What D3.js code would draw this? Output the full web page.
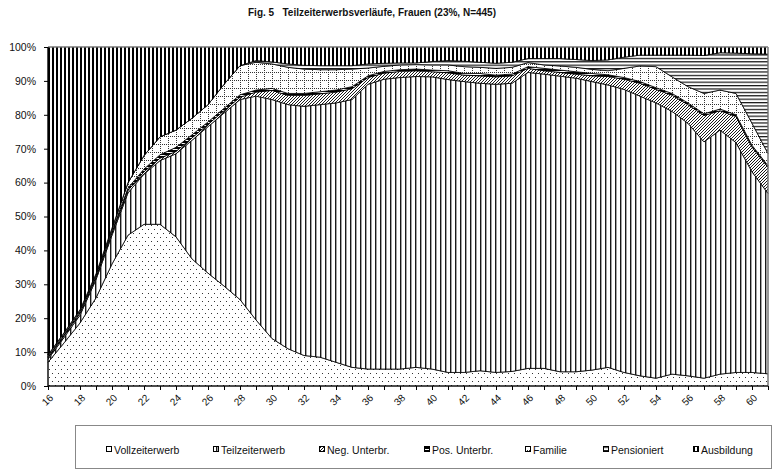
<!DOCTYPE html>
<meta charset="utf-8">
<style type="text/css">
    body { margin: 0; background: #fff; }
    svg text { font-family: Arial, "Liberation Sans", sans-serif; fill: #111; }
</style>

<!-- Load d3.js -->
<script src="https://d3js.org/d3.v7.min.js"></script>

<div id="my_dataviz"></div>

<script>

    // Ages on the x axis (16 .. 61)
    var ages = d3.range(16, 62);

    // Shares in percent per age
    var vollzeit = [7, 12.7, 18.6, 26, 36, 44.5, 47.7, 47.7, 44, 37.5, 33.3, 29.5, 25.5, 19.5, 14, 11, 9, 8.5, 7, 5.5,
        5, 5, 5, 5.5, 5, 4, 4, 4.5, 4, 4.3, 5.2, 5.2, 4.2, 4.2, 4.7, 5.5, 4, 3, 2.3, 3.5, 3, 2.3, 3.5, 4, 4, 3.6];
    var teilzeit = [0.9, 1.6, 2.3, 5.4, 8.5, 12.5, 14.8, 18.8, 24.5, 35, 43.2, 51, 59, 66, 70.5, 72, 73.5, 74.5, 76.5, 79,
        84, 85.5, 86, 85.8, 86.2, 86.4, 85.8, 84.8, 85, 85, 87.3, 86.8, 87.2, 86.6, 85.1, 83.3, 83.5, 82.5, 81.2, 77.5,
        74.5, 69.7, 72, 67.8, 59.2, 53.2];
    var negUnterbr = [0.4, 0.5, 0.6, 0.6, 0.7, 0.7, 0.7, 0.7, 0.7, 0.7, 0.7, 0.7, 0.7, 1.2, 2.7, 2.7, 3.2, 3.2, 3.2, 3.2,
        2, 1.8, 1.8, 1.7, 1.5, 2, 1.9, 2.2, 2.2, 2.2, 1.2, 1, 1.1, 1.2, 1.7, 2.5, 3, 3.8, 4, 4.8, 5.5, 7.8, 5.7, 7.7, 7.3, 7.7];
    var posUnterbr = [0.4, 0.4, 0.5, 0.5, 0.6, 0.7, 0.8, 1, 1.2, 0.9, 0.7, 0.7, 0.7, 0.6, 0.6, 0.6, 0.6, 0.6, 0.6, 0.6,
        0.5, 0.5, 0.5, 0.5, 0.5, 0.6, 0.5, 0.7, 0.5, 0.5, 0.5, 0.7, 0.7, 0.7, 0.7, 0.5, 0.5, 0.5, 0.5, 0.5, 0.5, 0.5, 0.5,
        0.5, 0.5, 0.5];
    var familie = [0.5, 0.5, 0.5, 0.6, 0.8, 1.6, 4, 5.3, 5.1, 4.9, 5.1, 7.1, 8.6, 8.2, 7.2, 7.7, 7.2, 6.5, 6, 5.2,
        2.3, 1.5, 1.4, 1.3, 1.5, 1.7, 2, 1.8, 2, 2, 1.2, 1, 1.2, 1.3, 1.2, 1.2, 2.7, 4.6, 6.2, 4.9, 4.8, 6, 5.6, 6.3, 6.5, 3.6];
    var pensioniert = [0, 0, 0, 0, 0, 0, 0, 0, 0, 0, 0, 0, 0, 0.5, 0.6, 1, 1.1, 1.2, 1.2, 1,
        1.2, 0.9, 0.6, 0.5, 1, 1.3, 1.6, 1.5, 1.5, 1.5, 1.2, 1.9, 2.2, 2.3, 2.6, 3.2, 3.3, 3.2, 3.4, 6.4, 9.3, 11.2, 11,
        11.9, 20.5, 29.3];
    var ausbildung = [90.8, 84.3, 77.5, 66.9, 53.4, 40, 32, 26.5, 24.5, 21, 17, 11, 5.5, 4, 4.4, 5, 5.4, 5.5, 5.5, 5.5,
        5, 4.8, 4.7, 4.7, 4.3, 4, 4.2, 4.5, 4.8, 4.5, 3.4, 3.4, 3.4, 3.7, 4, 3.8, 3, 2.4, 2.4, 2.4, 2.4, 2.5, 1.7, 1.8, 2, 2.1];

    var seriesNames = ["Vollzeiterwerb", "Teilzeiterwerb", "Neg. Unterbr.", "Pos. Unterbr.", "Familie", "Pensioniert", "Ausbildung"];
    var seriesValues = [vollzeit, teilzeit, negUnterbr, posUnterbr, familie, pensioniert, ausbildung];
    var yTicks = [0, 10, 20, 30, 40, 50, 60, 70, 80, 90, 100];

    // table for d3.stack
    var table = ages.map(function (a, i) {
        var row = {age: a};
        seriesNames.forEach(function (s, j) { row[s] = seriesValues[j][i]; });
        return row;
    });

    var W = 774, H = 470;
    var plot = {left: 48, right: 768, top: 47, bottom: 386};

    var svg = d3.select("#my_dataviz")
        .append("svg")
        .attr("width", W)
        .attr("height", H);

    // ---- black & white fill patterns (like the old Excel print) ----
    var defs = svg.append("defs");
    var patIds = ["pVoll", "pTeil", "pNeg", "pPos", "pFam", "pPens", "pAusb"];

    // sparse dots
    var p = defs.append("pattern").attr("id", "pVoll").attr("patternUnits", "userSpaceOnUse")
        .attr("width", 6).attr("height", 8);
    p.append("rect").attr("width", 6).attr("height", 8).attr("fill", "#fff");
    p.append("rect").attr("x", 1).attr("y", 1).attr("width", 1).attr("height", 1).attr("fill", "#333");
    p.append("rect").attr("x", 4).attr("y", 5).attr("width", 1).attr("height", 1).attr("fill", "#333");

    // vertical lines
    p = defs.append("pattern").attr("id", "pTeil").attr("patternUnits", "userSpaceOnUse")
        .attr("width", 5).attr("height", 5);
    p.append("rect").attr("width", 5).attr("height", 5).attr("fill", "#fff");
    p.append("rect").attr("x", 0).attr("width", 1.4).attr("height", 5).attr("fill", "#1a1a1a");

    // diagonal hatch
    p = defs.append("pattern").attr("id", "pNeg").attr("patternUnits", "userSpaceOnUse")
        .attr("width", 3).attr("height", 3);
    p.append("rect").attr("width", 3).attr("height", 3).attr("fill", "#fff");
    p.append("path").attr("d", "M-1,1 L1,-1 M0,3 L3,0 M2,4 L4,2")
        .attr("stroke", "#000").attr("stroke-width", 0.9);

    // dark band
    p = defs.append("pattern").attr("id", "pPos").attr("patternUnits", "userSpaceOnUse")
        .attr("width", 4).attr("height", 3);
    p.append("rect").attr("width", 4).attr("height", 3).attr("fill", "#fff");
    p.append("rect").attr("width", 4).attr("height", 2).attr("fill", "#000");

    // dotted grid
    p = defs.append("pattern").attr("id", "pFam").attr("patternUnits", "userSpaceOnUse")
        .attr("width", 8).attr("height", 8);
    p.append("rect").attr("width", 8).attr("height", 8).attr("fill", "#fff");
    d3.range(0, 8, 2).forEach(function (k) {
        p.append("rect").attr("x", k).attr("y", 0).attr("width", 1).attr("height", 1).attr("fill", "#333");
        p.append("rect").attr("x", 0).attr("y", k).attr("width", 1).attr("height", 1).attr("fill", "#333");
    });

    // horizontal lines
    p = defs.append("pattern").attr("id", "pPens").attr("patternUnits", "userSpaceOnUse")
        .attr("width", 4).attr("height", 3.4);
    p.append("rect").attr("width", 4).attr("height", 3.4).attr("fill", "#fff");
    p.append("rect").attr("y", 0).attr("width", 4).attr("height", 1.2).attr("fill", "#111");

    // dense vertical bars
    p = defs.append("pattern").attr("id", "pAusb").attr("patternUnits", "userSpaceOnUse")
        .attr("width", 4).attr("height", 4);
    p.append("rect").attr("width", 4).attr("height", 4).attr("fill", "#fff");
    p.append("rect").attr("x", 0).attr("width", 2).attr("height", 4).attr("fill", "#000");

    // ---- scales ----
    var x = d3.scaleLinear().domain([16, 61]).range([plot.left, plot.right]);
    var y = d3.scaleLinear().domain([0, 100]).range([plot.bottom, plot.top]);

    var stacked = d3.stack().keys(seriesNames)(table);

    var area = d3.area()
        .x(function (d) { return x(d.data.age); })
        .y0(function (d) { return y(d[0]); })
        .y1(function (d) { return y(d[1]); });

    svg.append("g")
        .selectAll("path")
        .data(stacked)
        .enter()
        .append("path")
        .attr("d", area)
        .attr("fill", function (d, i) { return "url(#" + patIds[i] + ")"; })
        .attr("stroke", "#000")
        .attr("stroke-width", 0.8)
        .attr("stroke-linejoin", "round");

    // plot frame (top / right in grey)
    svg.append("path")
        .attr("d", "M" + plot.left + "," + plot.top + "H" + plot.right + "V" + plot.bottom)
        .attr("fill", "none")
        .attr("stroke", "#999")
        .attr("stroke-width", 1);

    // ---- y axis ----
    var yAxis = svg.append("g")
        .attr("transform", "translate(" + plot.left + ",0)")
        .call(d3.axisLeft(y).tickValues(yTicks).tickSize(4).tickPadding(8)
            .tickFormat(function (d) { return d + "%"; }));
    yAxis.selectAll("text").attr("font-size", 10.5).attr("fill", "#222")
        .attr("font-family", "Arial, 'Liberation Sans', sans-serif");
    yAxis.selectAll("line, path").attr("stroke", "#000");
    yAxis.select(".domain").attr("d", "M0," + plot.top + "V" + plot.bottom);

    // ---- x axis ----
    var xAxis = svg.append("g")
        .attr("transform", "translate(0," + plot.bottom + ")")
        .call(d3.axisBottom(x).tickValues(ages).tickSize(4)
            .tickFormat(function (d) { return d % 2 === 0 ? d : ""; }));
    xAxis.selectAll("line, path").attr("stroke", "#000");
    xAxis.select(".domain").attr("d", "M" + plot.left + ",0H" + plot.right);
    xAxis.selectAll("text")
        .attr("font-size", 10)
        .attr("fill", "#222")
        .attr("font-family", "Arial, 'Liberation Sans', sans-serif")
        .attr("x", 0).attr("y", 0).attr("dy", "0.35em")
        .attr("text-anchor", "end")
        .attr("transform", "translate(3,10) rotate(-45)");

    // ---- title ----
    svg.append("text")
        .attr("x", 372)
        .attr("y", 16)
        .attr("text-anchor", "middle")
        .attr("font-size", 10)
        .attr("font-weight", "bold")
        .style("white-space", "pre")
        .text("Fig. 5   Teilzeiterwerbsverläufe, Frauen (23%, N=445)");

    // ---- legend ----
    svg.append("rect")
        .attr("x", 75.5).attr("y", 425.5)
        .attr("width", 696).attr("height", 43)
        .attr("fill", "none").attr("stroke", "#888");

    var legendX = [114, 221, 327, 432, 533, 611, 701];
    var lg = svg.selectAll("g.legend")
        .data(seriesNames)
        .enter()
        .append("g")
        .attr("class", "legend")
        .attr("transform", function (d, i) { return "translate(" + legendX[i] + ",450)"; });
    lg.append("rect")
        .attr("x", -7.5).attr("y", -3.5)
        .attr("width", 5).attr("height", 5)
        .attr("fill", function (d, i) { return "url(#" + patIds[i] + ")"; })
        .attr("stroke", "#000");
    lg.append("text")
        .attr("x", 0).attr("y", 0)
        .attr("dy", "0.35em")
        .attr("font-size", 10.5)
        .attr("fill", "#222")
        .text(function (d) { return d; });

</script>
